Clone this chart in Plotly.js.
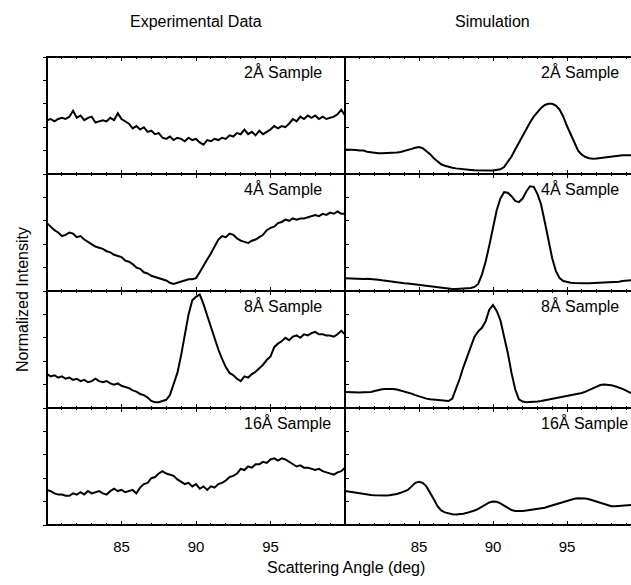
<!DOCTYPE html>
<html>
<head>
<meta charset="utf-8">
<script src="https://cdn.plot.ly/plotly-3.0.1.min.js"></script>
<style>
html,body{margin:0;padding:0;overflow:hidden;background:#fff;}
#chart{width:680px;height:585px;}
</style>
</head>
<body>
<div id="chart"></div>
<script>
// Scattering angle grid (deg)
const angle = [80.00,80.25,80.50,80.75,81.00,81.25,81.50,81.75,82.00,82.25,82.50,82.75,83.00,83.25,83.50,83.75,84.00,84.25,84.50,84.75,85.00,85.25,85.50,85.75,86.00,86.25,86.50,86.75,87.00,87.25,87.50,87.75,88.00,88.25,88.50,88.75,89.00,89.25,89.50,89.75,90.00,90.25,90.50,90.75,91.00,91.25,91.50,91.75,92.00,92.25,92.50,92.75,93.00,93.25,93.50,93.75,94.00,94.25,94.50,94.75,95.00,95.25,95.50,95.75,96.00,96.25,96.50,96.75,97.00,97.25,97.50,97.75,98.00,98.25,98.50,98.75,99.00,99.25,99.50,99.75,100.00];

// Experimental data (normalized intensity, each panel 0..1)
const exp2 = [0.46,0.47,0.45,0.47,0.48,0.47,0.49,0.54,0.48,0.50,0.46,0.48,0.49,0.44,0.45,0.46,0.45,0.48,0.46,0.52,0.47,0.45,0.43,0.39,0.41,0.38,0.40,0.36,0.37,0.34,0.35,0.31,0.30,0.32,0.29,0.31,0.30,0.28,0.31,0.29,0.30,0.27,0.25,0.29,0.28,0.30,0.29,0.31,0.30,0.33,0.32,0.35,0.34,0.38,0.34,0.36,0.33,0.37,0.34,0.36,0.38,0.41,0.39,0.41,0.40,0.43,0.47,0.45,0.49,0.47,0.50,0.48,0.50,0.47,0.49,0.47,0.48,0.49,0.51,0.55,0.50];
const exp4 = [0.58,0.55,0.52,0.50,0.47,0.48,0.50,0.49,0.46,0.47,0.44,0.42,0.40,0.38,0.37,0.36,0.34,0.33,0.31,0.30,0.29,0.26,0.25,0.23,0.20,0.19,0.16,0.15,0.13,0.12,0.11,0.10,0.09,0.07,0.06,0.07,0.08,0.09,0.10,0.10,0.11,0.16,0.22,0.27,0.32,0.38,0.44,0.47,0.46,0.49,0.48,0.45,0.43,0.42,0.41,0.43,0.44,0.46,0.48,0.52,0.54,0.55,0.58,0.59,0.61,0.60,0.62,0.61,0.62,0.62,0.63,0.64,0.65,0.64,0.66,0.65,0.67,0.66,0.68,0.66,0.66];
const exp8 = [0.29,0.27,0.28,0.26,0.27,0.25,0.26,0.24,0.25,0.23,0.24,0.22,0.23,0.25,0.23,0.22,0.23,0.21,0.20,0.21,0.19,0.18,0.17,0.15,0.14,0.12,0.11,0.09,0.06,0.05,0.05,0.06,0.07,0.11,0.20,0.30,0.45,0.62,0.80,0.92,0.95,0.97,0.89,0.79,0.69,0.60,0.50,0.42,0.35,0.30,0.28,0.25,0.23,0.27,0.26,0.29,0.31,0.34,0.37,0.41,0.44,0.52,0.55,0.57,0.60,0.58,0.61,0.62,0.60,0.63,0.62,0.64,0.65,0.63,0.63,0.62,0.62,0.61,0.63,0.66,0.63];
const exp16 = [0.30,0.29,0.27,0.26,0.26,0.25,0.25,0.27,0.26,0.28,0.26,0.29,0.27,0.28,0.29,0.27,0.26,0.29,0.31,0.29,0.30,0.28,0.29,0.30,0.27,0.32,0.35,0.36,0.40,0.41,0.44,0.46,0.44,0.43,0.42,0.39,0.37,0.35,0.36,0.33,0.35,0.31,0.33,0.30,0.33,0.32,0.35,0.36,0.38,0.41,0.42,0.44,0.48,0.47,0.50,0.49,0.52,0.52,0.54,0.53,0.56,0.57,0.55,0.57,0.56,0.54,0.52,0.50,0.51,0.49,0.49,0.48,0.47,0.48,0.46,0.45,0.44,0.43,0.45,0.46,0.49];

// Simulation (normalized intensity, each panel 0..1)
const sim2 = [0.21,0.21,0.205,0.205,0.20,0.20,0.19,0.185,0.18,0.178,0.177,0.177,0.178,0.18,0.183,0.188,0.195,0.205,0.215,0.225,0.23,0.22,0.195,0.17,0.135,0.105,0.083,0.07,0.06,0.053,0.048,0.043,0.04,0.037,0.034,0.031,0.029,0.028,0.028,0.029,0.03,0.032,0.04,0.06,0.10,0.15,0.21,0.27,0.33,0.39,0.44,0.49,0.53,0.565,0.59,0.60,0.60,0.585,0.55,0.49,0.41,0.335,0.26,0.20,0.165,0.145,0.135,0.13,0.132,0.136,0.14,0.145,0.15,0.155,0.158,0.16,0.16,0.16,0.16,0.16,0.16];
const sim4 = [0.11,0.108,0.105,0.103,0.102,0.103,0.105,0.104,0.10,0.097,0.092,0.087,0.082,0.078,0.074,0.070,0.067,0.064,0.060,0.055,0.050,0.046,0.042,0.039,0.036,0.030,0.025,0.021,0.018,0.017,0.017,0.018,0.020,0.022,0.026,0.035,0.06,0.14,0.25,0.39,0.55,0.69,0.79,0.845,0.84,0.81,0.77,0.76,0.79,0.85,0.895,0.89,0.83,0.74,0.59,0.43,0.28,0.17,0.11,0.085,0.075,0.07,0.068,0.066,0.066,0.066,0.067,0.068,0.069,0.070,0.071,0.072,0.074,0.077,0.080,0.085,0.089,0.093,0.095,0.097,0.098];
const sim8 = [0.137,0.135,0.133,0.132,0.133,0.134,0.135,0.137,0.145,0.155,0.160,0.163,0.165,0.163,0.158,0.150,0.142,0.134,0.123,0.110,0.098,0.088,0.080,0.075,0.071,0.067,0.064,0.062,0.060,0.08,0.16,0.25,0.35,0.44,0.53,0.61,0.655,0.685,0.74,0.84,0.88,0.83,0.75,0.62,0.47,0.30,0.16,0.075,0.055,0.050,0.050,0.051,0.055,0.060,0.066,0.074,0.080,0.087,0.094,0.098,0.102,0.108,0.114,0.120,0.128,0.140,0.155,0.172,0.186,0.196,0.200,0.199,0.194,0.186,0.176,0.164,0.148,0.130,0.115,0.105,0.098];
const sim16 = [0.29,0.285,0.28,0.272,0.267,0.263,0.26,0.257,0.255,0.253,0.252,0.252,0.254,0.258,0.265,0.275,0.285,0.30,0.33,0.36,0.37,0.36,0.33,0.28,0.22,0.16,0.125,0.108,0.098,0.092,0.09,0.092,0.097,0.104,0.113,0.124,0.138,0.155,0.175,0.193,0.20,0.198,0.185,0.165,0.145,0.128,0.12,0.118,0.12,0.123,0.127,0.131,0.135,0.140,0.148,0.158,0.168,0.180,0.19,0.20,0.21,0.218,0.225,0.229,0.23,0.227,0.22,0.21,0.20,0.188,0.175,0.165,0.16,0.16,0.163,0.167,0.171,0.174,0.176,0.177,0.178];

const sampleLabels = ["2Å Sample","4Å Sample","8Å Sample","16Å Sample"];
const columnTitles = ["Experimental Data","Simulation"];
const tickLabels = [85,90,95];
const expSeries = [exp2,exp4,exp8,exp16];
const simSeries = [sim2,sim4,sim8,sim16];

const FONT = "Liberation Sans, Arial, Helvetica, sans-serif";
const W = 680, H = 585;
const mL = 47, mR = 39, mT = 57, mB = 60;
const split = 298/(W-mL-mR);

const traces = [];
const layout = {
  width: W, height: H,
  margin: {l: mL, r: mR, t: mT, b: mB, pad: 0},
  paper_bgcolor: "#fff", plot_bgcolor: "#fff",
  showlegend: false,
  font: {family: FONT, color: "#000", size: 15},
  annotations: [],
  shapes: []
};

for (let r = 0; r < 4; r++) {
  for (let c = 0; c < 2; c++) {
    const k = r*2 + c + 1;
    const xs = k === 1 ? "" : String(k);
    const data = c === 0 ? expSeries[r] : simSeries[r];
    traces.push({
      x: angle, y: data,
      xaxis: "x" + xs, yaxis: "y" + xs,
      type: "scatter", mode: "lines",
      line: {color: "#000", width: 2},
      hoverinfo: "skip"
    });
    layout["xaxis" + xs] = {
      domain: c === 0 ? [0, split] : [split, 1],
      anchor: "y" + xs,
      range: [80, 100],
      showgrid: false, zeroline: false,
      showline: true, linecolor: "rgba(0,0,0,0)", linewidth: 1, mirror: "ticks",
      ticks: "inside", ticklen: 4, tickwidth: 1, tickcolor: "#000",
      tickvals: tickLabels, ticktext: tickLabels.map(String),
      showticklabels: r === 3,
      ticklabelstandoff: 8,
      tickfont: {family: FONT, size: 15, color: "#000"},
      minor: {dtick: 1, ticks: "inside", ticklen: 2, tickwidth: 1, tickcolor: "#000", showgrid: false},
      fixedrange: true
    };
    layout["yaxis" + xs] = {
      domain: [1 - (r+1)/4, 1 - r/4],
      anchor: "x" + xs,
      range: [0, 1],
      showgrid: false, zeroline: false,
      showline: true, linecolor: "rgba(0,0,0,0)", linewidth: 1, mirror: "ticks",
      ticks: c === 0 ? "outside" : "inside", ticklen: 3, tickwidth: 1, tickcolor: "#000",
      dtick: 0.2, showticklabels: false,
      fixedrange: true
    };
    layout.shapes.push({
      type: "rect", xref: "x" + xs + " domain", yref: "y" + xs + " domain",
      x0: 0, x1: 1, y0: 0, y1: 1,
      line: {color: "#000", width: 2}, fillcolor: "rgba(0,0,0,0)", layer: "above"
    });
    layout.annotations.push({
      xref: "x" + xs, yref: "y" + xs,
      x: 93.1, y: 0.872,
      xanchor: "left", yanchor: "middle",
      text: sampleLabels[r], showarrow: false,
      font: {family: FONT, size: 16, color: "#000"}
    });
  }
}

const pw = W - mL - mR, ph = H - mT - mB;
layout.annotations.push(
  {xref: "paper", yref: "paper", x: (196-mL)/pw, y: (H-mB-21)/ph, xanchor: "center", yanchor: "middle",
   text: columnTitles[0], showarrow: false, font: {family: FONT, size: 16, color: "#000"}},
  {xref: "paper", yref: "paper", x: (492-mL)/pw, y: (H-mB-21)/ph, xanchor: "center", yanchor: "middle",
   text: columnTitles[1], showarrow: false, font: {family: FONT, size: 16, color: "#000"}},
  {xref: "paper", yref: "paper", x: (346-mL)/pw, y: (H-mB-567)/ph, xanchor: "center", yanchor: "middle",
   text: "Scattering Angle (deg)", showarrow: false, font: {family: FONT, size: 16, color: "#000"}},
  {xref: "paper", yref: "paper", x: (22-mL)/pw, y: (H-mB-300)/ph, xanchor: "center", yanchor: "middle",
   text: "Normalized Intensity", textangle: -90, showarrow: false, font: {family: FONT, size: 16, color: "#000"}}
);

Plotly.newPlot("chart", traces, layout, {displayModeBar: false, staticPlot: true});
</script>
</body>
</html>
